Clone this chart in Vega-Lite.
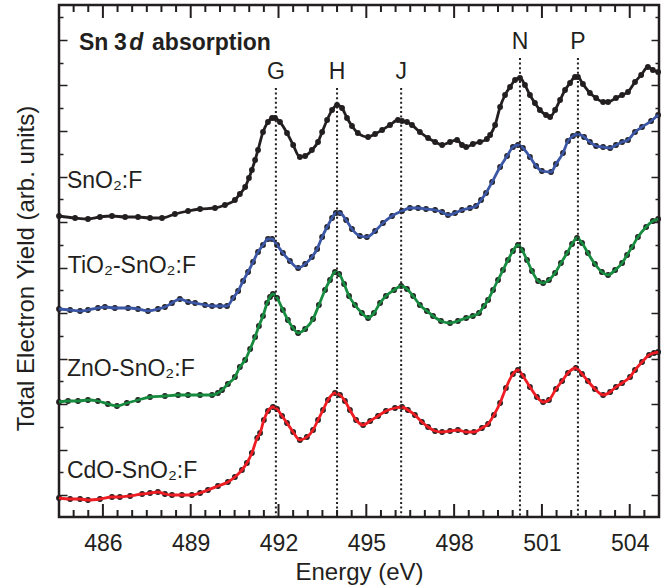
{
"$schema": "https://vega.github.io/schema/vega-lite/v6.json",
"width": 600, "height": 512,
"autosize": "none",
"padding": {"left": 59, "top": 5, "right": 7, "bottom": 71},
"config": {"view": {"stroke": "#231f20", "strokeWidth": 2.5}, "font": "Liberation Sans"},
"datasets": {
"spectra": [
{"e":484.50,"i":3.01,"s":"SnO2"},{"e":485.05,"i":2.99,"s":"SnO2"},{"e":485.49,"i":2.98,"s":"SnO2"},{"e":485.90,"i":3.00,"s":"SnO2"},{"e":486.31,"i":3.01,"s":"SnO2"},{"e":486.76,"i":3.00,"s":"SnO2"},{"e":487.20,"i":3.00,"s":"SnO2"},{"e":487.61,"i":2.99,"s":"SnO2"},{"e":488.02,"i":2.99,"s":"SnO2"},{"e":488.46,"i":3.03,"s":"SnO2"},{"e":488.91,"i":3.06,"s":"SnO2"},{"e":489.32,"i":3.08,"s":"SnO2"},{"e":489.83,"i":3.09,"s":"SnO2"},{"e":490.17,"i":3.12,"s":"SnO2"},{"e":490.51,"i":3.17,"s":"SnO2"},{"e":490.68,"i":3.23,"s":"SnO2"},{"e":490.86,"i":3.30,"s":"SnO2"},{"e":490.99,"i":3.39,"s":"SnO2"},{"e":491.09,"i":3.47,"s":"SnO2"},{"e":491.20,"i":3.57,"s":"SnO2"},{"e":491.30,"i":3.67,"s":"SnO2"},{"e":491.47,"i":3.85,"s":"SnO2"},{"e":491.64,"i":3.95,"s":"SnO2"},{"e":491.78,"i":3.99,"s":"SnO2"},{"e":491.88,"i":3.99,"s":"SnO2"},{"e":492.05,"i":3.95,"s":"SnO2"},{"e":492.29,"i":3.84,"s":"SnO2"},{"e":492.50,"i":3.72,"s":"SnO2"},{"e":492.73,"i":3.60,"s":"SnO2"},{"e":492.91,"i":3.61,"s":"SnO2"},{"e":493.14,"i":3.67,"s":"SnO2"},{"e":493.35,"i":3.75,"s":"SnO2"},{"e":493.49,"i":3.85,"s":"SnO2"},{"e":493.66,"i":3.97,"s":"SnO2"},{"e":493.83,"i":4.07,"s":"SnO2"},{"e":494.00,"i":4.12,"s":"SnO2"},{"e":494.17,"i":4.09,"s":"SnO2"},{"e":494.34,"i":3.99,"s":"SnO2"},{"e":494.51,"i":3.91,"s":"SnO2"},{"e":494.71,"i":3.84,"s":"SnO2"},{"e":495.06,"i":3.80,"s":"SnO2"},{"e":495.30,"i":3.83,"s":"SnO2"},{"e":495.54,"i":3.87,"s":"SnO2"},{"e":495.81,"i":3.92,"s":"SnO2"},{"e":496.08,"i":3.97,"s":"SnO2"},{"e":496.22,"i":3.96,"s":"SnO2"},{"e":496.39,"i":3.95,"s":"SnO2"},{"e":496.56,"i":3.92,"s":"SnO2"},{"e":496.83,"i":3.85,"s":"SnO2"},{"e":497.11,"i":3.79,"s":"SnO2"},{"e":497.35,"i":3.75,"s":"SnO2"},{"e":497.59,"i":3.72,"s":"SnO2"},{"e":497.86,"i":3.75,"s":"SnO2"},{"e":498.10,"i":3.77,"s":"SnO2"},{"e":498.27,"i":3.72,"s":"SnO2"},{"e":498.41,"i":3.70,"s":"SnO2"},{"e":498.64,"i":3.73,"s":"SnO2"},{"e":498.88,"i":3.75,"s":"SnO2"},{"e":499.12,"i":3.78,"s":"SnO2"},{"e":499.23,"i":3.82,"s":"SnO2"},{"e":499.40,"i":3.92,"s":"SnO2"},{"e":499.57,"i":4.10,"s":"SnO2"},{"e":499.74,"i":4.22,"s":"SnO2"},{"e":499.91,"i":4.30,"s":"SnO2"},{"e":500.08,"i":4.37,"s":"SnO2"},{"e":500.25,"i":4.39,"s":"SnO2"},{"e":500.42,"i":4.32,"s":"SnO2"},{"e":500.59,"i":4.22,"s":"SnO2"},{"e":500.76,"i":4.14,"s":"SnO2"},{"e":500.93,"i":4.07,"s":"SnO2"},{"e":501.14,"i":4.02,"s":"SnO2"},{"e":501.28,"i":4.00,"s":"SnO2"},{"e":501.45,"i":4.07,"s":"SnO2"},{"e":501.62,"i":4.17,"s":"SnO2"},{"e":501.79,"i":4.27,"s":"SnO2"},{"e":501.96,"i":4.34,"s":"SnO2"},{"e":502.13,"i":4.40,"s":"SnO2"},{"e":502.23,"i":4.40,"s":"SnO2"},{"e":502.40,"i":4.33,"s":"SnO2"},{"e":502.64,"i":4.24,"s":"SnO2"},{"e":502.85,"i":4.19,"s":"SnO2"},{"e":503.09,"i":4.15,"s":"SnO2"},{"e":503.26,"i":4.15,"s":"SnO2"},{"e":503.53,"i":4.19,"s":"SnO2"},{"e":503.74,"i":4.22,"s":"SnO2"},{"e":503.94,"i":4.25,"s":"SnO2"},{"e":504.18,"i":4.35,"s":"SnO2"},{"e":504.39,"i":4.42,"s":"SnO2"},{"e":504.62,"i":4.50,"s":"SnO2"},{"e":504.79,"i":4.47,"s":"SnO2"},{"e":504.97,"i":4.45,"s":"SnO2"},
{"e":484.50,"i":2.08,"s":"TiO2"},{"e":484.88,"i":2.07,"s":"TiO2"},{"e":485.22,"i":2.06,"s":"TiO2"},{"e":485.49,"i":2.07,"s":"TiO2"},{"e":485.83,"i":2.09,"s":"TiO2"},{"e":486.07,"i":2.10,"s":"TiO2"},{"e":486.41,"i":2.09,"s":"TiO2"},{"e":486.86,"i":2.09,"s":"TiO2"},{"e":487.20,"i":2.08,"s":"TiO2"},{"e":487.54,"i":2.06,"s":"TiO2"},{"e":487.88,"i":2.08,"s":"TiO2"},{"e":488.12,"i":2.10,"s":"TiO2"},{"e":488.36,"i":2.14,"s":"TiO2"},{"e":488.63,"i":2.18,"s":"TiO2"},{"e":488.91,"i":2.15,"s":"TiO2"},{"e":489.15,"i":2.14,"s":"TiO2"},{"e":489.49,"i":2.12,"s":"TiO2"},{"e":489.73,"i":2.11,"s":"TiO2"},{"e":490.00,"i":2.11,"s":"TiO2"},{"e":490.24,"i":2.11,"s":"TiO2"},{"e":490.45,"i":2.19,"s":"TiO2"},{"e":490.62,"i":2.26,"s":"TiO2"},{"e":490.79,"i":2.36,"s":"TiO2"},{"e":490.96,"i":2.45,"s":"TiO2"},{"e":491.13,"i":2.55,"s":"TiO2"},{"e":491.30,"i":2.65,"s":"TiO2"},{"e":491.47,"i":2.72,"s":"TiO2"},{"e":491.64,"i":2.78,"s":"TiO2"},{"e":491.78,"i":2.78,"s":"TiO2"},{"e":491.95,"i":2.72,"s":"TiO2"},{"e":492.15,"i":2.64,"s":"TiO2"},{"e":492.39,"i":2.56,"s":"TiO2"},{"e":492.67,"i":2.49,"s":"TiO2"},{"e":492.91,"i":2.53,"s":"TiO2"},{"e":493.14,"i":2.60,"s":"TiO2"},{"e":493.32,"i":2.68,"s":"TiO2"},{"e":493.49,"i":2.80,"s":"TiO2"},{"e":493.66,"i":2.90,"s":"TiO2"},{"e":493.83,"i":2.99,"s":"TiO2"},{"e":493.96,"i":3.04,"s":"TiO2"},{"e":494.10,"i":3.04,"s":"TiO2"},{"e":494.31,"i":2.97,"s":"TiO2"},{"e":494.51,"i":2.88,"s":"TiO2"},{"e":494.78,"i":2.81,"s":"TiO2"},{"e":495.02,"i":2.80,"s":"TiO2"},{"e":495.30,"i":2.86,"s":"TiO2"},{"e":495.57,"i":2.94,"s":"TiO2"},{"e":495.88,"i":3.01,"s":"TiO2"},{"e":496.22,"i":3.06,"s":"TiO2"},{"e":496.49,"i":3.09,"s":"TiO2"},{"e":496.77,"i":3.09,"s":"TiO2"},{"e":497.04,"i":3.08,"s":"TiO2"},{"e":497.35,"i":3.07,"s":"TiO2"},{"e":497.59,"i":3.05,"s":"TiO2"},{"e":497.79,"i":3.02,"s":"TiO2"},{"e":498.03,"i":3.04,"s":"TiO2"},{"e":498.27,"i":3.07,"s":"TiO2"},{"e":498.54,"i":3.09,"s":"TiO2"},{"e":498.75,"i":3.11,"s":"TiO2"},{"e":498.92,"i":3.17,"s":"TiO2"},{"e":499.09,"i":3.24,"s":"TiO2"},{"e":499.30,"i":3.35,"s":"TiO2"},{"e":499.57,"i":3.50,"s":"TiO2"},{"e":499.81,"i":3.61,"s":"TiO2"},{"e":500.01,"i":3.70,"s":"TiO2"},{"e":500.18,"i":3.72,"s":"TiO2"},{"e":500.35,"i":3.69,"s":"TiO2"},{"e":500.59,"i":3.60,"s":"TiO2"},{"e":500.80,"i":3.51,"s":"TiO2"},{"e":501.00,"i":3.46,"s":"TiO2"},{"e":501.31,"i":3.45,"s":"TiO2"},{"e":501.48,"i":3.53,"s":"TiO2"},{"e":501.72,"i":3.64,"s":"TiO2"},{"e":501.89,"i":3.76,"s":"TiO2"},{"e":502.06,"i":3.81,"s":"TiO2"},{"e":502.23,"i":3.83,"s":"TiO2"},{"e":502.44,"i":3.80,"s":"TiO2"},{"e":502.64,"i":3.75,"s":"TiO2"},{"e":502.85,"i":3.71,"s":"TiO2"},{"e":503.09,"i":3.70,"s":"TiO2"},{"e":503.33,"i":3.69,"s":"TiO2"},{"e":503.53,"i":3.72,"s":"TiO2"},{"e":503.74,"i":3.75,"s":"TiO2"},{"e":503.94,"i":3.77,"s":"TiO2"},{"e":504.18,"i":3.85,"s":"TiO2"},{"e":504.42,"i":3.90,"s":"TiO2"},{"e":504.73,"i":3.96,"s":"TiO2"},{"e":504.97,"i":4.02,"s":"TiO2"},
{"e":484.50,"i":1.15,"s":"ZnO"},{"e":484.81,"i":1.16,"s":"ZnO"},{"e":485.15,"i":1.16,"s":"ZnO"},{"e":485.49,"i":1.17,"s":"ZnO"},{"e":485.83,"i":1.16,"s":"ZnO"},{"e":486.17,"i":1.13,"s":"ZnO"},{"e":486.48,"i":1.11,"s":"ZnO"},{"e":486.82,"i":1.14,"s":"ZnO"},{"e":487.20,"i":1.17,"s":"ZnO"},{"e":487.61,"i":1.20,"s":"ZnO"},{"e":488.12,"i":1.21,"s":"ZnO"},{"e":488.57,"i":1.22,"s":"ZnO"},{"e":488.91,"i":1.22,"s":"ZnO"},{"e":489.32,"i":1.22,"s":"ZnO"},{"e":489.73,"i":1.22,"s":"ZnO"},{"e":489.93,"i":1.24,"s":"ZnO"},{"e":490.07,"i":1.27,"s":"ZnO"},{"e":490.27,"i":1.33,"s":"ZnO"},{"e":490.51,"i":1.40,"s":"ZnO"},{"e":490.68,"i":1.50,"s":"ZnO"},{"e":490.86,"i":1.57,"s":"ZnO"},{"e":491.03,"i":1.68,"s":"ZnO"},{"e":491.20,"i":1.80,"s":"ZnO"},{"e":491.33,"i":1.91,"s":"ZnO"},{"e":491.47,"i":2.01,"s":"ZnO"},{"e":491.61,"i":2.14,"s":"ZnO"},{"e":491.71,"i":2.20,"s":"ZnO"},{"e":491.81,"i":2.23,"s":"ZnO"},{"e":491.95,"i":2.19,"s":"ZnO"},{"e":492.15,"i":2.07,"s":"ZnO"},{"e":492.32,"i":1.97,"s":"ZnO"},{"e":492.50,"i":1.89,"s":"ZnO"},{"e":492.67,"i":1.84,"s":"ZnO"},{"e":492.91,"i":1.88,"s":"ZnO"},{"e":493.18,"i":1.98,"s":"ZnO"},{"e":493.38,"i":2.12,"s":"ZnO"},{"e":493.59,"i":2.27,"s":"ZnO"},{"e":493.76,"i":2.37,"s":"ZnO"},{"e":493.93,"i":2.45,"s":"ZnO"},{"e":494.07,"i":2.43,"s":"ZnO"},{"e":494.24,"i":2.33,"s":"ZnO"},{"e":494.41,"i":2.21,"s":"ZnO"},{"e":494.61,"i":2.12,"s":"ZnO"},{"e":494.85,"i":2.04,"s":"ZnO"},{"e":495.06,"i":1.99,"s":"ZnO"},{"e":495.26,"i":2.04,"s":"ZnO"},{"e":495.47,"i":2.14,"s":"ZnO"},{"e":495.67,"i":2.21,"s":"ZnO"},{"e":495.95,"i":2.27,"s":"ZnO"},{"e":496.19,"i":2.31,"s":"ZnO"},{"e":496.39,"i":2.28,"s":"ZnO"},{"e":496.60,"i":2.21,"s":"ZnO"},{"e":496.83,"i":2.12,"s":"ZnO"},{"e":497.07,"i":2.06,"s":"ZnO"},{"e":497.28,"i":2.01,"s":"ZnO"},{"e":497.55,"i":1.96,"s":"ZnO"},{"e":497.86,"i":1.94,"s":"ZnO"},{"e":498.13,"i":1.96,"s":"ZnO"},{"e":498.41,"i":1.99,"s":"ZnO"},{"e":498.64,"i":2.01,"s":"ZnO"},{"e":498.85,"i":2.04,"s":"ZnO"},{"e":499.02,"i":2.11,"s":"ZnO"},{"e":499.16,"i":2.17,"s":"ZnO"},{"e":499.33,"i":2.27,"s":"ZnO"},{"e":499.50,"i":2.37,"s":"ZnO"},{"e":499.67,"i":2.47,"s":"ZnO"},{"e":499.84,"i":2.57,"s":"ZnO"},{"e":500.01,"i":2.66,"s":"ZnO"},{"e":500.18,"i":2.72,"s":"ZnO"},{"e":500.32,"i":2.67,"s":"ZnO"},{"e":500.49,"i":2.57,"s":"ZnO"},{"e":500.66,"i":2.46,"s":"ZnO"},{"e":500.87,"i":2.36,"s":"ZnO"},{"e":501.04,"i":2.34,"s":"ZnO"},{"e":501.24,"i":2.37,"s":"ZnO"},{"e":501.45,"i":2.44,"s":"ZnO"},{"e":501.65,"i":2.54,"s":"ZnO"},{"e":501.86,"i":2.64,"s":"ZnO"},{"e":502.03,"i":2.73,"s":"ZnO"},{"e":502.20,"i":2.79,"s":"ZnO"},{"e":502.37,"i":2.74,"s":"ZnO"},{"e":502.57,"i":2.64,"s":"ZnO"},{"e":502.81,"i":2.53,"s":"ZnO"},{"e":503.05,"i":2.45,"s":"ZnO"},{"e":503.26,"i":2.42,"s":"ZnO"},{"e":503.50,"i":2.47,"s":"ZnO"},{"e":503.74,"i":2.54,"s":"ZnO"},{"e":503.91,"i":2.62,"s":"ZnO"},{"e":504.08,"i":2.70,"s":"ZnO"},{"e":504.28,"i":2.80,"s":"ZnO"},{"e":504.56,"i":2.90,"s":"ZnO"},{"e":504.79,"i":2.96,"s":"ZnO"},{"e":504.97,"i":2.98,"s":"ZnO"},
{"e":484.50,"i":0.19,"s":"CdO"},{"e":484.88,"i":0.18,"s":"CdO"},{"e":485.22,"i":0.18,"s":"CdO"},{"e":485.49,"i":0.17,"s":"CdO"},{"e":485.90,"i":0.18,"s":"CdO"},{"e":486.31,"i":0.20,"s":"CdO"},{"e":486.58,"i":0.20,"s":"CdO"},{"e":486.93,"i":0.21,"s":"CdO"},{"e":487.34,"i":0.23,"s":"CdO"},{"e":487.61,"i":0.24,"s":"CdO"},{"e":487.88,"i":0.25,"s":"CdO"},{"e":488.12,"i":0.23,"s":"CdO"},{"e":488.36,"i":0.22,"s":"CdO"},{"e":488.70,"i":0.22,"s":"CdO"},{"e":489.04,"i":0.22,"s":"CdO"},{"e":489.32,"i":0.24,"s":"CdO"},{"e":489.59,"i":0.27,"s":"CdO"},{"e":489.93,"i":0.31,"s":"CdO"},{"e":490.27,"i":0.35,"s":"CdO"},{"e":490.51,"i":0.40,"s":"CdO"},{"e":490.75,"i":0.47,"s":"CdO"},{"e":490.92,"i":0.54,"s":"CdO"},{"e":491.09,"i":0.64,"s":"CdO"},{"e":491.27,"i":0.79,"s":"CdO"},{"e":491.37,"i":0.84,"s":"CdO"},{"e":491.50,"i":0.97,"s":"CdO"},{"e":491.64,"i":1.06,"s":"CdO"},{"e":491.81,"i":1.10,"s":"CdO"},{"e":491.95,"i":1.08,"s":"CdO"},{"e":492.12,"i":1.01,"s":"CdO"},{"e":492.29,"i":0.94,"s":"CdO"},{"e":492.50,"i":0.85,"s":"CdO"},{"e":492.73,"i":0.77,"s":"CdO"},{"e":492.97,"i":0.80,"s":"CdO"},{"e":493.18,"i":0.87,"s":"CdO"},{"e":493.35,"i":0.97,"s":"CdO"},{"e":493.52,"i":1.07,"s":"CdO"},{"e":493.69,"i":1.17,"s":"CdO"},{"e":493.93,"i":1.24,"s":"CdO"},{"e":494.10,"i":1.22,"s":"CdO"},{"e":494.27,"i":1.16,"s":"CdO"},{"e":494.44,"i":1.07,"s":"CdO"},{"e":494.65,"i":0.97,"s":"CdO"},{"e":494.89,"i":0.92,"s":"CdO"},{"e":495.13,"i":0.96,"s":"CdO"},{"e":495.40,"i":1.01,"s":"CdO"},{"e":495.67,"i":1.06,"s":"CdO"},{"e":495.98,"i":1.09,"s":"CdO"},{"e":496.22,"i":1.10,"s":"CdO"},{"e":496.42,"i":1.07,"s":"CdO"},{"e":496.66,"i":1.02,"s":"CdO"},{"e":496.90,"i":0.95,"s":"CdO"},{"e":497.11,"i":0.90,"s":"CdO"},{"e":497.35,"i":0.86,"s":"CdO"},{"e":497.59,"i":0.85,"s":"CdO"},{"e":497.86,"i":0.86,"s":"CdO"},{"e":498.13,"i":0.87,"s":"CdO"},{"e":498.41,"i":0.85,"s":"CdO"},{"e":498.68,"i":0.85,"s":"CdO"},{"e":498.95,"i":0.89,"s":"CdO"},{"e":499.16,"i":0.93,"s":"CdO"},{"e":499.36,"i":1.02,"s":"CdO"},{"e":499.57,"i":1.14,"s":"CdO"},{"e":499.77,"i":1.29,"s":"CdO"},{"e":500.01,"i":1.43,"s":"CdO"},{"e":500.18,"i":1.47,"s":"CdO"},{"e":500.35,"i":1.41,"s":"CdO"},{"e":500.59,"i":1.30,"s":"CdO"},{"e":500.83,"i":1.20,"s":"CdO"},{"e":501.04,"i":1.15,"s":"CdO"},{"e":501.24,"i":1.17,"s":"CdO"},{"e":501.48,"i":1.28,"s":"CdO"},{"e":501.69,"i":1.36,"s":"CdO"},{"e":501.89,"i":1.44,"s":"CdO"},{"e":502.16,"i":1.49,"s":"CdO"},{"e":502.37,"i":1.43,"s":"CdO"},{"e":502.57,"i":1.36,"s":"CdO"},{"e":502.81,"i":1.28,"s":"CdO"},{"e":503.09,"i":1.22,"s":"CdO"},{"e":503.33,"i":1.25,"s":"CdO"},{"e":503.53,"i":1.30,"s":"CdO"},{"e":503.74,"i":1.34,"s":"CdO"},{"e":504.01,"i":1.40,"s":"CdO"},{"e":504.18,"i":1.47,"s":"CdO"},{"e":504.42,"i":1.55,"s":"CdO"},{"e":504.66,"i":1.62,"s":"CdO"},{"e":504.83,"i":1.64,"s":"CdO"},{"e":504.97,"i":1.65,"s":"CdO"}
],
"peaks": [
{"name":"G","e":491.91,"top":4.29,"ly":4.38},
{"name":"H","e":494.00,"top":4.29,"ly":4.38},
{"name":"J","e":496.19,"top":4.29,"ly":4.38},
{"name":"N","e":500.25,"top":4.59,"ly":4.68},
{"name":"P","e":502.23,"top":4.59,"ly":4.68}
],
"samples": [
{"t":"SnO₂:F","e":484.77,"y":3.29},
{"t":"TiO₂-SnO₂:F","e":484.80,"y":2.44},
{"t":"ZnO-SnO₂:F","e":484.77,"y":1.41},
{"t":"CdO-SnO₂:F","e":484.77,"y":0.39}
],
"majorTicks": [{"e":486},{"e":489},{"e":492},{"e":495},{"e":498},{"e":501},{"e":504}],
"minorTicks": [{"e":485},{"e":485.5},{"e":486.5},{"e":487},{"e":487.5},{"e":488},{"e":488.5},{"e":489.5},{"e":490},{"e":490.5},{"e":491},{"e":491.5},{"e":492.5},{"e":493},{"e":493.5},{"e":494},{"e":494.5},{"e":495.5},{"e":496},{"e":496.5},{"e":497},{"e":497.5},{"e":498.5},{"e":499},{"e":499.5},{"e":500},{"e":500.5},{"e":501.5},{"e":502},{"e":502.5},{"e":503},{"e":503.5},{"e":504.5}]
},
"resolve": {"axis": {"x": "independent", "y": "independent"}},
"layer": [
{
"data": {"name": "spectra"},
"mark": {"type": "circle", "size": 34, "color": "#231f20", "opacity": 1},
"encoding": {
"x": {"field": "e", "type": "quantitative", "scale": {"domain": [484.5, 505], "nice": false, "zero": false}, "axis": null},
"y": {"field": "i", "type": "quantitative", "scale": {"domain": [0, 5.12], "nice": false, "zero": false},
  "axis": {"orient": "right", "values": [0.22,0.4475,0.675,0.9025,1.13,1.3575,1.585,1.8125,2.04,2.2675,2.495,2.7225,2.95,3.1775,3.405,3.6325,3.86,4.0875,4.315,4.5425,4.77,4.9975],
  "labels": false, "title": null, "domain": false, "grid": false, "tickColor": "#231f20", "tickWidth": 1.5,
  "tickSize": {"condition": {"test": "abs((datum.value-0.22)/0.455 - round((datum.value-0.22)/0.455)) < 0.05", "value": -8}, "value": -4}}}
}
},
{
"data": {"name": "spectra"},
"mark": {"type": "line", "strokeWidth": 2.8, "interpolate": "monotone"},
"encoding": {
"x": {"field": "e", "type": "quantitative", "scale": {"domain": [484.5, 505], "nice": false, "zero": false},
  "axis": {"orient": "bottom", "values": [486,489,492,495,498,501,504], "format": "d", "offset": -13, "tickOpacity": 0,
  "labelFont": "Liberation Sans", "labelFontSize": 23, "labelColor": "#231f20", "labelPadding": 15,
  "title": "Energy (eV)", "titleFont": "Liberation Sans", "titleFontSize": 24, "titleFontWeight": "normal", "titleColor": "#231f20", "titlePadding": 5,
  "domain": false, "grid": false, "tickColor": "#231f20", "tickWidth": 1.5, "tickSize": 13}},
"y": {"field": "i", "type": "quantitative", "scale": {"domain": [0, 5.12], "nice": false, "zero": false},
  "axis": {"orient": "left", "values": [0.22,0.4475,0.675,0.9025,1.13,1.3575,1.585,1.8125,2.04,2.2675,2.495,2.7225,2.95,3.1775,3.405,3.6325,3.86,4.0875,4.315,4.5425,4.77,4.9975],
  "labels": false, "title": "Total Electron Yield (arb. units)", "titleFont": "Liberation Sans", "titleFontSize": 24, "titleFontWeight": "normal", "titleColor": "#231f20", "titlePadding": 20, "titleY": 263,
  "domain": false, "grid": false, "tickColor": "#231f20", "tickWidth": 1.5,
  "tickSize": {"condition": {"test": "abs((datum.value-0.22)/0.455 - round((datum.value-0.22)/0.455)) < 0.05", "value": -8}, "value": -4}}},
"color": {"field": "s", "type": "nominal", "legend": null,
  "scale": {"domain": ["SnO2", "TiO2", "ZnO", "CdO"], "range": ["#231f20", "#3a56a5", "#178b3f", "#ee1d23"]}}
}
},
{
"data": {"name": "peaks"},
"mark": {"type": "rule", "strokeWidth": 2, "strokeDash": [2, 2.6], "color": "#231f20"},
"encoding": {
"x": {"field": "e", "type": "quantitative", "scale": {"domain": [484.5, 505], "nice": false, "zero": false}, "axis": null},
"y": {"field": "top", "type": "quantitative", "scale": {"domain": [0, 5.12], "nice": false, "zero": false}, "axis": null},
"y2": {"datum": 0}
}
},
{
"data": {"name": "peaks"},
"mark": {"type": "text", "font": "Liberation Sans", "fontSize": 23, "color": "#231f20", "align": "center", "baseline": "alphabetic"},
"encoding": {
"x": {"field": "e", "type": "quantitative", "scale": {"domain": [484.5, 505], "nice": false, "zero": false}, "axis": null},
"y": {"field": "ly", "type": "quantitative", "scale": {"domain": [0, 5.12], "nice": false, "zero": false}, "axis": null},
"text": {"field": "name"}
}
},
{
"data": {"name": "samples"},
"mark": {"type": "text", "font": "Liberation Sans", "fontSize": 23, "color": "#231f20", "align": "left", "baseline": "alphabetic"},
"encoding": {
"x": {"field": "e", "type": "quantitative", "scale": {"domain": [484.5, 505], "nice": false, "zero": false}, "axis": null},
"y": {"field": "y", "type": "quantitative", "scale": {"domain": [0, 5.12], "nice": false, "zero": false}, "axis": null},
"text": {"field": "t"}
}
},
{
"data": {"values": [{"t": "Sn", "e": 485.18, "y": 4.67}, {"t": "3", "e": 486.38, "y": 4.67}, {"t": "absorption", "e": 487.68, "y": 4.67}]},
"mark": {"type": "text", "font": "Liberation Sans", "fontSize": 23, "fontWeight": "bold", "color": "#231f20", "align": "left", "baseline": "alphabetic"},
"encoding": {
"x": {"field": "e", "type": "quantitative", "scale": {"domain": [484.5, 505], "nice": false, "zero": false}, "axis": null},
"y": {"field": "y", "type": "quantitative", "scale": {"domain": [0, 5.12], "nice": false, "zero": false}, "axis": null},
"text": {"field": "t"}
}
},
{
"data": {"values": [{"t": "d", "e": 486.90, "y": 4.67}]},
"mark": {"type": "text", "font": "Liberation Sans", "fontSize": 23, "fontWeight": "bold", "fontStyle": "italic", "color": "#231f20", "align": "left", "baseline": "alphabetic"},
"encoding": {
"x": {"field": "e", "type": "quantitative", "scale": {"domain": [484.5, 505], "nice": false, "zero": false}, "axis": null},
"y": {"field": "y", "type": "quantitative", "scale": {"domain": [0, 5.12], "nice": false, "zero": false}, "axis": null},
"text": {"field": "t"}
}
},
{
"data": {"name": "majorTicks"},
"mark": {"type": "tick", "orient": "vertical", "size": 13, "thickness": 2, "color": "#231f20", "opacity": 1, "yOffset": -6.5},
"encoding": {
"x": {"field": "e", "type": "quantitative", "scale": {"domain": [484.5, 505], "nice": false, "zero": false}, "axis": null},
"y": {"datum": 0, "type": "quantitative", "scale": {"domain": [0, 5.12], "nice": false, "zero": false}, "axis": null}
}
},
{
"data": {"name": "majorTicks"},
"mark": {"type": "tick", "orient": "vertical", "size": 13, "thickness": 2, "color": "#231f20", "opacity": 1, "yOffset": 6.5},
"encoding": {
"x": {"field": "e", "type": "quantitative", "scale": {"domain": [484.5, 505], "nice": false, "zero": false}, "axis": null},
"y": {"datum": 5.12, "type": "quantitative", "scale": {"domain": [0, 5.12], "nice": false, "zero": false}, "axis": null}
}
},
{
"data": {"name": "minorTicks"},
"mark": {"type": "tick", "orient": "vertical", "size": 7, "thickness": 2, "color": "#231f20", "opacity": 1, "yOffset": -3.5},
"encoding": {
"x": {"field": "e", "type": "quantitative", "scale": {"domain": [484.5, 505], "nice": false, "zero": false}, "axis": null},
"y": {"datum": 0, "type": "quantitative", "scale": {"domain": [0, 5.12], "nice": false, "zero": false}, "axis": null}
}
},
{
"data": {"name": "minorTicks"},
"mark": {"type": "tick", "orient": "vertical", "size": 7, "thickness": 2, "color": "#231f20", "opacity": 1, "yOffset": 3.5},
"encoding": {
"x": {"field": "e", "type": "quantitative", "scale": {"domain": [484.5, 505], "nice": false, "zero": false}, "axis": null},
"y": {"datum": 5.12, "type": "quantitative", "scale": {"domain": [0, 5.12], "nice": false, "zero": false}, "axis": null}
}
}
]
}
